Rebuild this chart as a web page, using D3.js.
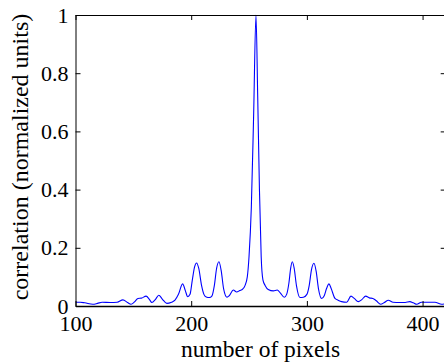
<!DOCTYPE html>
<html><head><meta charset="utf-8">
<script src="https://cdn.jsdelivr.net/npm/d3@7"></script>
<style>
html,body{margin:0;padding:0;background:#fff;}
svg{display:block;}
text{font-family:"Liberation Serif","Times New Roman",serif;fill:#000;}
</style></head>
<body>
<script>
const xValues = [100,104,108,115,119,123,130,136,141,145,148,151,154,157,161,164,166,169,172,175,179,183,186,189,192.6,195,197,199,201,203,204.7,206.5,209,211,213,215.7,218,220,222,224,226,228,231,233,236.4,239.3,242,244.5,246.5,248.5,250,252,254,256,257.5,259,260.5,262,264,266.6,271,274.4,277,280.5,282.5,284.5,286,287.4,289,291,294,297,300,302,304,306.1,308,310,312.8,315,317,319.1,321,324.3,327,330,334.4,338.1,341,344.4,347.5,350.8,354,357,360,363.8,367,370.4,374.5,380,385,389,392,395,399,405,410.7,416.5,420];
const yValues = [0.013,0.013,0.011,0.006,0.009,0.013,0.012,0.013,0.021,0.012,0.006,0.014,0.026,0.027,0.034,0.022,0.012,0.022,0.037,0.024,0.009,0.013,0.02,0.04,0.076,0.052,0.032,0.04,0.09,0.135,0.148,0.13,0.07,0.04,0.031,0.029,0.035,0.07,0.13,0.152,0.12,0.06,0.030,0.036,0.055,0.048,0.053,0.058,0.07,0.1,0.17,0.34,0.66,1.0,0.72,0.4,0.17,0.09,0.07,0.057,0.052,0.055,0.045,0.03,0.04,0.08,0.13,0.152,0.13,0.07,0.029,0.03,0.04,0.07,0.125,0.147,0.12,0.06,0.026,0.035,0.06,0.076,0.06,0.026,0.02,0.015,0.013,0.034,0.026,0.015,0.022,0.034,0.028,0.026,0.018,0.006,0.012,0.02,0.013,0.012,0.012,0.015,0.011,0.006,0.013,0.013,0.013,0.006,0.008];
const xTicks = [100,200,300,400];
const yTicks = [0,0.2,0.4,0.6,0.8,1];
const xLabel = "number of pixels";
const yLabel = "correlation (normalized units)";

(function(){
const W = 444, H = 362;
const mL = 75.5, mR = 445.7, mT = 15, mB = 306;
const svg = d3.select("body").append("svg").attr("width", W).attr("height", H);

const x = d3.scaleLinear().domain([100, 420]).range([mL, mR]);
const y = d3.scaleLinear().domain([0, 1]).range([mB, mT]);

const data = xValues.map((v, i) => [v, yValues[i]]);

svg.append("clipPath").attr("id", "c").append("rect")
  .attr("x", mL).attr("y", mT - 2).attr("width", mR - mL).attr("height", mB - mT + 2);

svg.append("path").datum(data)
  .attr("clip-path", "url(#c)")
  .attr("fill", "none").attr("stroke", "#0000ff").attr("stroke-width", 1.1)
  .attr("d", d3.line().x(d => x(d[0])).y(d => y(d[1])).curve(d3.curveMonotoneX));

const tl = 5;
const gx = svg.append("g").attr("transform", `translate(0,${mB})`)
  .call(d3.axisBottom(x).tickValues(xTicks).tickSize(-tl).tickSizeOuter(0).tickPadding(9.5).tickFormat(d3.format("d")));
gx.select(".domain").attr("stroke-width", 1.6);
gx.selectAll("text").attr("font-size", 22).attr("font-family", null);
svg.append("g").attr("transform", `translate(0,${mT})`)
  .call(d3.axisTop(x).tickValues(xTicks).tickSize(-tl).tickSizeOuter(0).tickFormat(""));
const gy = svg.append("g").attr("transform", `translate(${mL},0)`)
  .call(d3.axisLeft(y).tickValues(yTicks).tickSize(-tl).tickSizeOuter(0).tickPadding(7).tickFormat(d => d === 0 ? "0" : d === 1 ? "1" : d3.format(".1f")(d)));
gy.selectAll("text").attr("font-size", 22).attr("font-family", null);
svg.append("g").attr("transform", `translate(${mR},0)`)
  .call(d3.axisRight(y).tickValues(yTicks).tickSize(-tl).tickSizeOuter(0).tickFormat(""));

svg.selectAll(".domain").attr("stroke", "#000");
svg.selectAll(".tick line").attr("stroke", "#000");

svg.append("text").attr("x", (mL + mR) / 2).attr("y", 357)
  .attr("text-anchor", "middle").attr("font-size", 23.5).text(xLabel);
svg.append("text").attr("transform", `translate(28,157) rotate(-90)`)
  .attr("text-anchor", "middle").attr("font-size", 24).text(yLabel);
})();
</script>
</body></html>
